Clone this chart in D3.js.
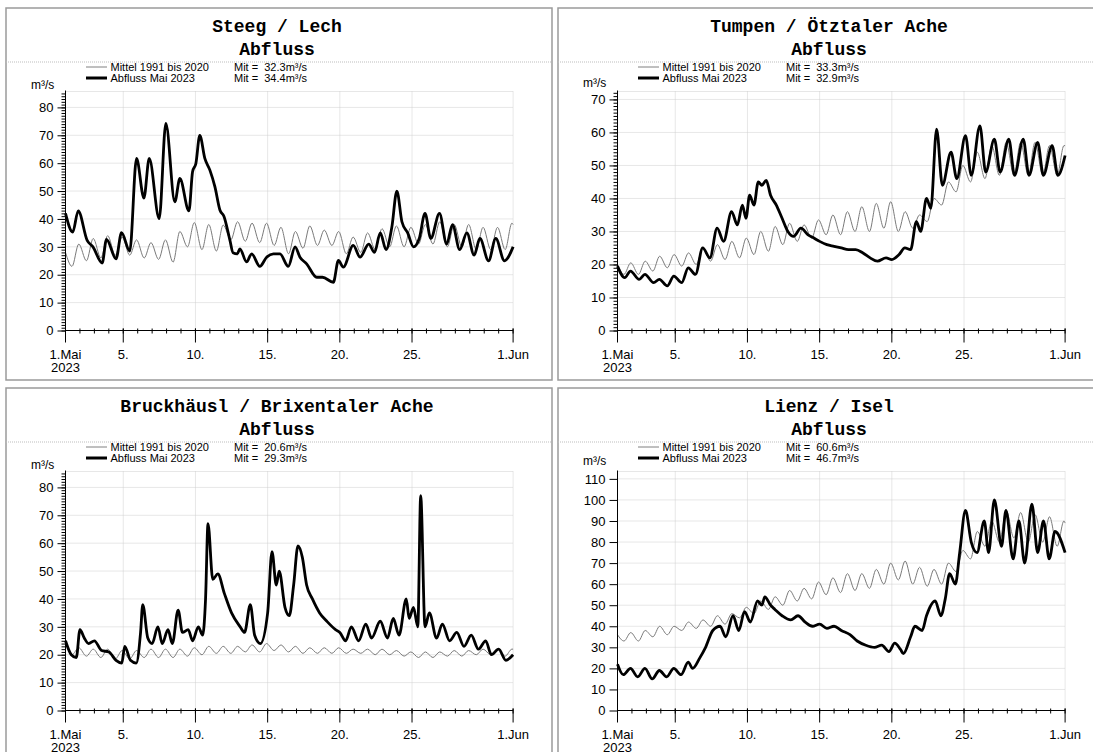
<!DOCTYPE html>
<html><head><meta charset="utf-8">
<script src="https://cdn.jsdelivr.net/npm/d3@7"></script>
<style>
body{margin:0;background:#fff}
svg{display:block}
text{font-family:"Liberation Sans",Arial,sans-serif;fill:#000}
.title{font-family:"Liberation Mono","Courier New",monospace;font-weight:bold;font-size:18px}
</style>
</head><body>
<svg id="chart" width="1093" height="752"></svg>
<script>
// ---------- labels ----------
const stationNames = ["Steeg / Lech", "Tumpen / Ötztaler Ache", "Bruckhäusl / Brixentaler Ache", "Lienz / Isel"];
const quantityLabel = "Abfluss";
const unitLabel = "m³/s";
const legendMeanLabel = "Mittel 1991 bis 2020";
const legendObsLabel = "Abfluss Mai 2023";
const meanAverages = ["32.3", "33.3", "20.6", "60.6"];
const obsAverages = ["34.4", "32.9", "29.3", "46.7"];
const tickDays = [0, 4, 9, 14, 19, 24, 31];
const tickLabels = ["1.Mai", "5.", "10.", "15.", "20.", "25.", "1.Jun"];
const yearLabel = "2023";
const yTop = [85.7, 72.4, 85.7, 113.5];

// ---------- long-term mean: value at 1 May 00h, then (morning low, evening high) per day, then value at 1 Jun ----------
const steegMean = [28,
  23,31, 25,33, 26,34, 27,33.5, 27,32.5, 26,31.5, 25.5,32.5, 24.5,35.5, 30,38.7, 29,38,
  28.5,37.8, 32.5,39, 32,38.5, 31.5,38.5, 30.5,37, 27.5,35.5, 29.5,37.5, 30.5,36, 30.5,35.5, 27.5,33.5,
  28,35, 29,36.5, 30,37.5, 30,37, 31,38, 31,39, 30,38, 30,38, 29,37, 29,37, 29,38.5,
  38];
const tumpenMean = [20,
  17,20.5, 17,21, 18,22.5, 19,23, 19.5,23.5, 20,25, 21,26, 21.5,27, 22,28, 23,30,
  24,31.5, 26,32.5, 27,32, 28,33.5, 29,35, 29,36, 30,37.5, 30,38.5, 31,39, 30,36,
  31,35, 33,40, 38,45, 42,50, 45,54, 46,56, 47,57, 47,57, 47,57, 47,56, 47,56,
  56];
const bruckMean = [25,
  20,22.5, 19.5,22, 19,22, 18.5,21.5, 18.5,21.5, 19,22, 19,22, 19,22, 19.5,22.5, 20,23,
  20.5,23, 20.5,23, 21,23.5, 21,24, 21.5,23.5, 21,23, 20.5,22.5, 20.5,22.5, 20.5,22.5, 20.5,22,
  20.5,22, 20,22, 20,21.5, 19.5,21, 19,21, 19,21, 19.5,21.5, 19.5,21.5, 20,22, 20,22, 19.5,22,
  22];
const lienzMean = [36,
  33,37, 33,38, 35,40, 36,40, 38,42, 39,43, 40,45, 41,46, 44,49, 46,52,
  48,54, 50,57, 52,58, 53,61, 55,63, 56,65, 57,65, 58,67, 60,70, 62,71,
  60,68, 59,67, 60,70, 66,76, 72,85, 78,90, 80,95, 82,94, 80,93, 80,92, 78,90,
  89];

// ---------- May 2023: [day since 1 May 00h, m³/s] ----------
const steegObs = [[0,42],[0.5,35.3],[0.88,42.9],[1.5,32.3],[1.9,30],[2.54,24.2],[2.84,32.7],[3.5,25.7],[3.88,35.1],
  [4.45,28.5],[4.92,61.7],[5.43,47.5],[5.8,61.7],[6.49,40.1],[6.95,74.3],[7.57,46.1],[7.92,54.5],[8.55,42.9],
  [8.8,56.9],[9.03,59.9],[9.3,70],[9.65,61.7],[10.0,57.5],[10.35,51.5],[10.7,43.1],[10.97,41],[11.39,32.3],
  [11.6,27.9],[11.9,27.5],[12.08,29.3],[12.54,24.6],[12.89,27.5],[13.46,23],[13.93,26.3],[14.4,27.5],[14.85,27.5],
  [15.43,23],[15.9,30],[16.24,26.3],[16.7,23.9],[17.4,19.1],[17.8,19.1],[18.55,17.3],[18.9,25.1],[19.24,22.7],
  [19.93,30.5],[20.4,26.3],[21.0,31],[21.4,28],[21.8,35],[22.2,29],[22.6,37],[22.95,50],[23.3,39],[23.7,35],
  [24.1,30],[24.5,33],[24.9,42],[25.3,33],[25.9,42],[26.4,31],[26.8,38],[27.3,29],[27.8,35],[28.3,27],
  [28.7,33],[29.3,25],[29.8,33],[30.4,25],[31,30]];
const tumpenObs = [[0,19.5],[0.5,16],[0.9,18],[1.5,15.5],[1.9,17],[2.5,14.5],[2.9,15.5],[3.45,13.5],[3.9,16.5],
  [4.45,14.5],[4.9,19],[5.4,17],[5.9,25],[6.4,22],[6.9,31],[7.35,27],[7.9,36],[8.3,32],[8.65,38],[8.9,34],
  [9.15,41],[9.45,38],[9.75,45],[10.0,44],[10.3,45.5],[10.6,41],[11.0,38],[11.4,34],[11.8,30],[12.2,28.5],
  [12.7,31],[13.2,29],[13.6,28],[14.0,27],[14.5,26],[15.0,25.5],[15.5,25],[16.0,24.5],[16.5,24.5],[17.0,23.5],
  [17.5,22],[18.0,21],[18.6,22],[19.0,21.5],[19.5,23],[19.9,25],[20.3,24.5],[20.7,33],[21.0,30],[21.4,40],
  [21.7,37],[22.1,61],[22.5,44],[23.1,54],[23.5,46],[24.1,59],[24.5,47],[25.1,62],[25.5,48],[26.1,58],
  [26.5,48],[27.1,58],[27.5,47],[28.1,58],[28.5,47],[29.1,57],[29.5,47],[30.1,56],[30.5,47],[31,53]];
const bruckObs = [[0,25],[0.4,20],[0.75,19],[1.0,29],[1.3,26],[1.6,24],[2.0,25],[2.5,21.5],[3.0,21],[3.5,18],
  [3.9,17],[4.1,23],[4.5,18],[4.9,17],[5.2,28],[5.35,38],[5.7,26],[6.0,24],[6.4,30],[6.7,24],[7.1,29],[7.4,24],
  [7.8,36],[8.1,28],[8.5,29],[8.8,25],[9.2,30],[9.5,27],[9.7,40],[9.87,67],[10.2,47],[10.55,49],[11.0,42],
  [11.5,35],[12.1,30],[12.4,28],[12.8,38],[13.1,27],[13.5,24],[14.0,35],[14.3,57],[14.6,45],[14.8,50],[15.2,37],
  [15.5,34],[15.8,45],[16.1,59],[16.4,55],[16.7,45],[17.1,40],[17.6,35],[18.1,32],[18.7,29],[19.0,28],[19.4,25],
  [19.8,30],[20.3,25],[20.8,31],[21.2,26],[21.8,32],[22.3,26],[22.7,33],[23.1,27],[23.6,40],[23.8,33],[24.1,37],
  [24.4,30],[24.6,77],[24.9,30],[25.2,35],[25.7,26],[26.1,31],[26.6,25],[27.1,28],[27.6,23],[28.1,27],[28.6,22],
  [29.1,25],[29.5,20],[30.0,22],[30.5,18],[31,20]];
const lienzObs = [[0,22],[0.4,17],[0.9,20],[1.4,16],[1.9,20],[2.4,15],[2.9,19],[3.4,16],[3.9,20],[4.4,17],
  [4.9,23],[5.2,20],[5.7,25],[6.1,30],[6.6,38],[7.1,40],[7.5,35],[8.0,45],[8.4,38],[8.8,47],[9.2,42],[9.7,52],
  [10.0,50],[10.2,54],[10.6,50],[10.9,48],[11.4,45],[12.0,43],[12.5,45],[13.0,42],[13.5,40],[14.0,41],[14.5,39],
  [15.0,40],[15.5,38],[16.1,36],[16.6,33],[17.2,31],[17.8,30],[18.3,31],[18.8,28],[19.2,32],[19.6,29],[19.8,27],
  [20.3,35],[20.6,40],[21.1,38],[21.4,45],[22.0,52],[22.4,45],[22.7,53],[23.0,65],[23.4,60],[23.7,75],[24.1,95],
  [24.5,80],[24.9,75],[25.4,90],[25.7,75],[26.1,100],[26.6,78],[26.9,95],[27.4,72],[27.8,90],[28.2,70],[28.7,98],
  [29.1,75],[29.5,90],[29.9,72],[30.3,85],[31,75]];

const meanSeries = [steegMean, tumpenMean, bruckMean, lienzMean];
const obsSeries = [steegObs, tumpenObs, bruckObs, lienzObs];

// ---------- layout ----------
const panelOrigins = [[6, 8], [558, 8], [6, 388], [558, 388]];
const panelW = 546, panelH = 372;
const plotLeft = 59.5, plotWidth = 447.6, plotZero = 322.5, plotTop = 83.5;
const minorY = [true, true, true, false];
const unitBaseline = [81, 79, 81, 77];

const svg = d3.select("#chart");

// time position of each mean value: start, daily low/high pairs, end
function meanPoints(vals) {
  const n = vals.length;
  return vals.map((v, i) => {
    let t;
    if (i === 0) t = 0;
    else if (i === n - 1) t = 31;
    else { const k = i - 1; t = Math.floor(k / 2) + (k % 2 === 0 ? 0.45 : 0.92); }
    return [t, v];
  });
}

function drawPanel(i) {
  const [ox, oy] = panelOrigins[i];
  const g = svg.append("g").attr("transform", `translate(${ox},${oy})`);
  const cx = 271;

  g.append("rect").attr("x", 0).attr("y", 0).attr("width", panelW).attr("height", panelH)
    .attr("fill", "none").attr("stroke", "#9a9a9a").attr("stroke-width", 1.5);

  g.append("text").attr("class", "title").attr("x", cx).attr("y", 24)
    .attr("text-anchor", "middle").text(stationNames[i]);
  g.append("text").attr("class", "title").attr("x", cx).attr("y", 47)
    .attr("text-anchor", "middle").text(quantityLabel);
  g.append("line").attr("x1", 0).attr("x2", panelW).attr("y1", 54).attr("y2", 54)
    .attr("stroke", "#bdbdbd").attr("stroke-dasharray", "1,1");

  // legend
  const legend = [[legendMeanLabel, meanAverages[i], "#808080", 1, 59], [legendObsLabel, obsAverages[i], "#000", 3, 70]];
  legend.forEach(([lab, avg, col, w, ly]) => {
    g.append("line").attr("x1", 80).attr("x2", 101).attr("y1", ly).attr("y2", ly)
      .attr("stroke", col).attr("stroke-width", w);
    g.append("text").attr("x", 104.5).attr("y", ly + 4).attr("font-size", "11px").text(lab);
    g.append("text").attr("x", 228).attr("y", ly + 4).attr("font-size", "11px")
      .attr("xml:space", "preserve").style("white-space", "pre").text(`Mit =  ${avg}${unitLabel}`);
  });
  g.append("text").attr("x", 25).attr("y", unitBaseline[i]).attr("font-size", "12px").text(unitLabel);

  const x = d3.scaleLinear().domain([0, 31]).range([plotLeft, plotLeft + plotWidth]);
  const y = d3.scaleLinear().domain([0, yTop[i]]).range([plotZero, plotTop]);
  const majors = d3.range(0, yTop[i] + 0.001, 10);

  // grid
  const grid = g.append("g").attr("stroke", "#cfcfcf").attr("stroke-dasharray", "1,1").attr("stroke-width", 1);
  grid.selectAll(".h").data(majors.filter(d => d > 0)).join("line")
    .attr("x1", x(0)).attr("x2", x(31)).attr("y1", d => y(d)).attr("y2", d => y(d));
  grid.selectAll(".v").data(tickDays.filter(d => d > 0)).join("line")
    .attr("x1", d => x(d)).attr("x2", d => x(d)).attr("y1", plotTop).attr("y2", plotZero);
  grid.append("line").attr("x1", x(0)).attr("x2", x(31)).attr("y1", plotTop).attr("y2", plotTop);

  // series
  const line = d3.line().x(d => x(d[0])).y(d => y(d[1])).curve(d3.curveMonotoneX);
  g.append("path").attr("d", line(meanPoints(meanSeries[i]))).attr("fill", "none")
    .attr("stroke", "#7a7a7a").attr("stroke-width", 1);
  g.append("path").attr("d", line(obsSeries[i])).attr("fill", "none")
    .attr("stroke", "#000").attr("stroke-width", 2.8).attr("stroke-linejoin", "round");

  // y axis
  if (minorY[i]) {
    g.append("g").attr("transform", `translate(${x(0)},0)`)
      .call(d3.axisLeft(y).tickValues(d3.range(0, yTop[i] + 0.001, 1)).tickSize(4).tickFormat(""))
      .call(a => a.select(".domain").remove());
  }
  g.append("g").attr("transform", `translate(${x(0)},0)`)
    .call(d3.axisLeft(y).tickValues(majors).tickSize(8).tickPadding(4).tickSizeOuter(0).tickFormat(d3.format("d")))
    .call(a => a.selectAll("text").attr("font-size", "13px").attr("font-family", "Liberation Sans, Arial, sans-serif"))
    .call(a => a.select(".domain").attr("d", `M0,${plotZero}V${plotTop - 1}`));

  // x axis
  const xa = g.append("g");
  xa.append("line").attr("x1", x(0)).attr("x2", x(31)).attr("y1", plotZero).attr("y2", plotZero).attr("stroke", "#000");
  xa.selectAll(".mn").data(d3.range(0, 32)).join("line")
    .attr("x1", d => x(d)).attr("x2", d => x(d)).attr("y1", plotZero - 2).attr("y2", plotZero + 3).attr("stroke", "#000");
  xa.selectAll(".mj").data(tickDays).join("line")
    .attr("x1", d => x(d)).attr("x2", d => x(d)).attr("y1", plotZero - 2).attr("y2", plotZero + 12).attr("stroke", "#000");
  xa.selectAll(".lb").data(tickDays).join("text")
    .attr("x", d => x(d)).attr("y", plotZero + 28.5).attr("text-anchor", "middle").attr("font-size", "13px")
    .text((d, k) => tickLabels[k]);
  xa.append("text").attr("x", x(0)).attr("y", plotZero + 41.5).attr("text-anchor", "middle")
    .attr("font-size", "13px").text(yearLabel);
}

[0, 1, 2, 3].forEach(drawPanel);
</script>
</body></html>
